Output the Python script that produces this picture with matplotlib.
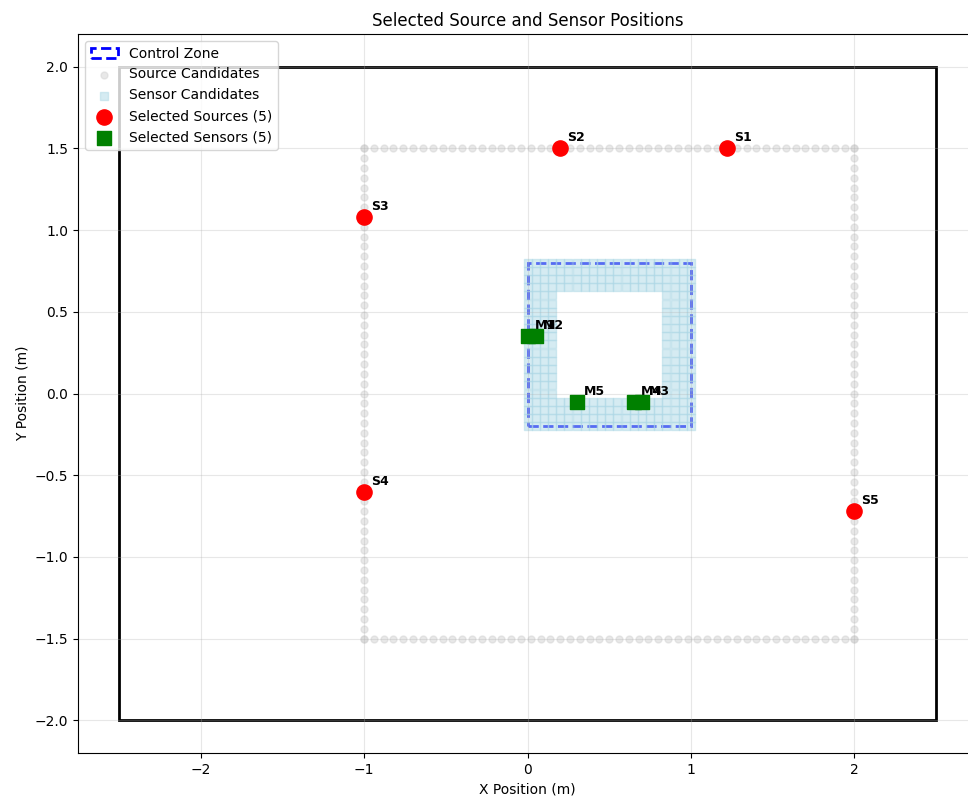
import numpy as np
import matplotlib
matplotlib.use("Agg")
import matplotlib.pyplot as plt
from matplotlib.patches import Rectangle

# candidate source ring (square perimeter, 0.06 m spacing)
src_side = np.round(np.arange(-1.0, 2.0 + 1e-9, 0.06), 2)
src_y_side = np.round(np.arange(-1.5, 1.5 + 1e-9, 0.06), 2)

# candidate sensor grid (band around the control zone)
sens_x = np.round(np.arange(0.0, 1.0 + 1e-9, 0.05), 2)
sens_y = np.round(np.arange(-0.2, 0.8 + 1e-9, 0.05), 2)

# selected positions
source_names = ["S1", "S2", "S3", "S4", "S5"]
source_x = [1.22, 0.20, -1.00, -1.00, 2.00]
source_y = [1.50, 1.50, 1.08, -0.60, -0.72]

sensor_names = ["M1", "M2", "M3", "M4", "M5"]
sensor_x = [0.00, 0.05, 0.70, 0.65, 0.30]
sensor_y = [0.35, 0.35, -0.05, -0.05, -0.05]

# build candidate point lists
cand_x, cand_y = [], []
for x in src_side:
    cand_x += [x, x]
    cand_y += [1.5, -1.5]
for y in src_y_side:
    cand_x += [-1.0, 2.0]
    cand_y += [y, y]

grid_x, grid_y = [], []
for x in sens_x:
    for y in sens_y:
        inner = (0.15 < x < 0.85) and (-0.05 < y < 0.65)
        if not inner:
            grid_x.append(x)
            grid_y.append(y)

fig = plt.figure(figsize=(9.68, 8.02), dpi=100)
ax = fig.add_axes([78 / 968, 49 / 802, 899 / 968, 719 / 802])

# outer region boundary
ax.add_patch(Rectangle((-2.5, -2.0), 5.0, 4.0, fill=False, edgecolor="black", linewidth=2))

# control zone
ax.add_patch(Rectangle((0.0, -0.2), 1.0, 1.0, fill=False, edgecolor="blue",
                       linestyle="--", linewidth=2, label="Control Zone"))

ax.scatter(cand_x, cand_y, s=25, color="lightgray", alpha=0.5, label="Source Candidates")
ax.scatter(grid_x, grid_y, s=30, marker="s", color="lightblue", alpha=0.5, label="Sensor Candidates")

ax.scatter(source_x, source_y, s=120, color="red", zorder=5, label="Selected Sources (5)")
ax.scatter(sensor_x, sensor_y, s=110, marker="s", color="green", zorder=5, label="Selected Sensors (5)")

for name, x, y in zip(source_names, source_x, source_y):
    ax.annotate(name, (x, y), xytext=(5, 5), textcoords="offset points",
                fontsize=9, fontweight="bold")
for name, x, y in zip(sensor_names, sensor_x, sensor_y):
    ax.annotate(name, (x, y), xytext=(5, 5), textcoords="offset points",
                fontsize=9, fontweight="bold")

ax.set_xlim(-2.75, 2.75)
ax.set_ylim(-2.2, 2.2)
ax.set_xlabel("X Position (m)")
ax.set_ylabel("Y Position (m)")
ax.set_title("Selected Source and Sensor Positions")
ax.grid(True, alpha=0.3)
ax.legend(loc="upper left")

fig.savefig("out.png", dpi=100)
